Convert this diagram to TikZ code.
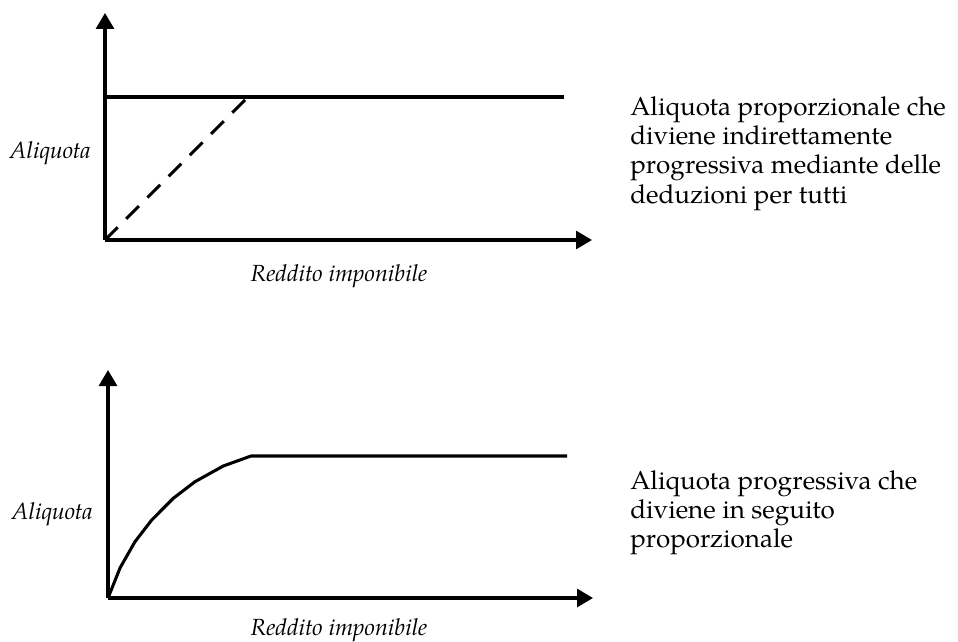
\documentclass[tikz,border=0pt]{standalone}
\usepackage{fontspec}
\setmainfont{TeX Gyre Pagella}
\usetikzlibrary{arrows.meta}
\begin{document}
\begin{tikzpicture}[x=0.75pt,y=-0.75pt,
  axis/.style={line width=2.3pt,-{Triangle[length=12pt,width=13.5pt]}},
  curve/.style={line width=2.3pt},
  dashcurve/.style={line width=2.3pt,dash pattern=on 13.5pt off 9pt},
  axlabel/.style={inner sep=0pt,font=\fontsize{17.5}{21}\selectfont\itshape},
  desc/.style={inner sep=0pt,align=left,anchor=north west,font=\fontsize{19.5}{22}\selectfont}]
\useasboundingbox (0,0) rectangle (958,642);
% top chart
\coordinate (o1) at (105,240);
\coordinate (y1) at (105,13);
\coordinate (x1) at (592,240);
\coordinate (hs1) at (105,97);
\coordinate (k1) at (248,97);
\coordinate (he1) at (564,97);
\draw[axis] (o1) -- (y1);
\draw[axis] (o1) -- (x1);
\draw[curve] (hs1) -- (he1);
\draw[dashcurve] (o1) -- (k1);
\node[axlabel,anchor=base east] (al1) at (91,158) {Aliquota};
\node[axlabel,anchor=base] (rl1) at (339,281) {Reddito imponibile};
\node[desc] (d1) at (630,96) {Aliquota proporzionale che\\diviene indirettamente\\progressiva mediante delle\\deduzioni per tutti};
% bottom chart
\coordinate (o2) at (108,598);
\coordinate (y2) at (108,370);
\coordinate (x2) at (593,598);
\coordinate (k2) at (251,456);
\coordinate (he2) at (567,456);
\draw[axis] (o2) -- (y2);
\draw[axis] (o2) -- (x2);
\draw[curve,line join=round] (o2) -- (120,568) -- (135,541.7) -- (151.7,520) -- (173.3,498.3) -- (195,481.7) -- (223.3,466) -- (k2) -- (he2);
\node[axlabel,anchor=base east] (al2) at (93,519) {Aliquota};
\node[axlabel,anchor=base] (rl2) at (339,635) {Reddito imponibile};
\node[desc] (d2) at (630,470) {Aliquota progressiva che\\diviene in seguito\\proporzionale};
\end{tikzpicture}
\end{document}
